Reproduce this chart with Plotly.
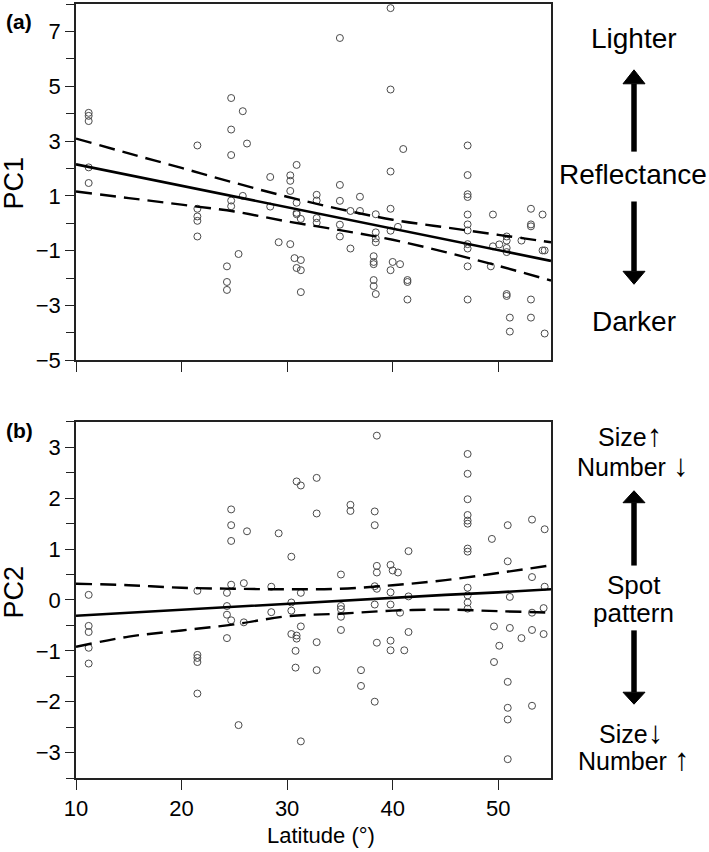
import plotly.graph_objects as go

# ---------------- data ----------------
lat_a = [11.2]*5 + [21.5]*5 + [24.3]*3 + [24.7]*5 + [25.4] + [25.8]*2 + [26.2] + [28.4]*2 + [29.2] \
    + [30.3]*4 + [30.9]*5 + [30.7] + [31.3]*4 + [32.8]*4 + [35.0]*5 + [36.0]*2 + [36.9]*2 \
    + [38.4]*4 + [38.2]*5 + [38.4] + [39.8]*6 + [40.0] + [40.5] + [40.7] + [41.0] + [41.4]*3 \
    + [47.1]*11 + [49.3] + [49.5]*2 + [50.1] + [50.8]*6 + [51.1]*2 + [52.2] + [53.1]*5 + [54.2]*2 + [54.4]*2
pc1 = [4.03, 3.92, 3.73, 2.04, 1.47,
       2.84, 0.53, 0.25, 0.09, -0.48,
       -1.57, -2.14, -2.43,
       4.57, 3.42, 2.49, 0.83, 0.62,
       -1.12,
       4.09, 1.00,
       2.91,
       1.69, 0.61,
       -0.69,
       1.75, 1.55, 1.18, -0.76,
       2.13, 0.75, 0.38, 0.33, -1.63,
       -1.27,
       0.16, -1.34, -1.71, -2.51,
       1.04, 0.83, 0.19, 0.02,
       6.76, 1.40, 0.82, -0.05, -0.48,
       -0.92, 0.45,
       0.97, 0.45,
       0.33, -0.33, -0.55, -0.69,
       -1.20, -1.41, -1.49, -2.07, -2.29,
       -2.58,
       7.85, 4.88, 1.89, 0.53, -0.27, -1.71,
       -1.41,
       -0.13,
       -1.49,
       2.71,
       -2.07, -2.14, -2.78,
       2.84, 1.76, 1.06, 0.96, 0.32, -0.04, -0.26, -0.76, -0.92, -1.57, -2.78,
       -1.57,
       0.32, -0.84,
       -0.77,
       -0.48, -0.63, -0.90, -1.05, -2.58, -2.65,
       -3.44, -3.95,
       -0.63,
       0.53, -0.04, -0.11, -2.78, -3.44,
       0.32, -0.99,
       -0.99, -4.02]

lat_b = [11.2]*5 + [21.5]*5 + [24.3]*4 + [24.7]*5 + [25.4] + [25.9]*2 + [26.2] + [28.5]*2 + [29.2] \
    + [30.4]*4 + [30.9]*3 + [30.8]*2 + [31.3]*4 + [32.8]*4 + [35.1]*5 + [36.0]*2 + [37.0]*2 \
    + [38.3]*5 + [38.5]*5 + [39.8]*5 + [40.0] + [40.5] + [40.7] + [41.1] + [41.5]*3 \
    + [47.1]*12 + [49.4] + [49.6]*2 + [50.1] + [50.9]*6 + [51.1]*2 + [52.2] + [53.2]*5 + [54.3]*2 + [54.4]*2
pc2 = [0.10, -0.51, -0.63, -0.94, -1.25,
       0.18, -1.08, -1.14, -1.22, -1.84,
       0.14, -0.12, -0.29, -0.75,
       1.78, 1.47, 1.16, 0.30, -0.40,
       -2.46,
       0.33, -0.44,
       1.35,
       0.26, -0.24,
       1.31,
       0.85, -0.05, -0.21, -0.67,
       -0.70, -0.76, 2.33,
       -1.00, -1.33,
       2.25, 0.14, -0.52, -2.78,
       2.40, 1.70, -0.83, -1.38,
       0.50, -0.12, -0.18, -0.33, -0.59,
       1.87, 1.75,
       -1.38, -1.69,
       1.74, 1.47, 0.27, -0.09, -2.00,
       3.23, 0.67, 0.54, 0.22, -0.84,
       0.69, 0.15, -0.09, -0.80, -0.99,
       0.58,
       0.54,
       -0.25,
       -0.99,
       0.96, 0.07, -0.63,
       2.87, 2.48, 1.98, 1.67, 1.56, 1.50, 1.01, 0.95, 0.24, 0.09, -0.05, -0.17,
       1.20,
       -0.52, -1.22,
       -0.90,
       1.47, 0.76, -1.61, -2.12, -2.35, -3.13,
       0.06, -0.55,
       -0.75,
       1.58, 0.45, -0.25, -0.59, -2.08,
       -0.16, -0.67,
       1.39, 0.26]

# regression line and 95% confidence band
lat_fit = [10, 15, 20, 25, 30, 35, 40, 45, 50, 55]
pc1_fit = [2.15, 1.76, 1.37, 0.98, 0.59, 0.20, -0.19, -0.58, -0.97, -1.37]
pc1_upper = [3.09, 2.55, 2.02, 1.48, 0.97, 0.52, 0.13, -0.15, -0.42, -0.69]
pc1_lower = [1.16, 0.92, 0.68, 0.43, 0.07, -0.25, -0.60, -1.05, -1.55, -2.09]
pc2_fit = [-0.31, -0.25, -0.19, -0.13, -0.08, -0.02, 0.04, 0.10, 0.15, 0.21]
pc2_upper = [0.32, 0.29, 0.24, 0.22, 0.21, 0.22, 0.29, 0.39, 0.53, 0.68]
pc2_lower = [-0.92, -0.72, -0.60, -0.48, -0.32, -0.27, -0.21, -0.19, -0.22, -0.25]

x_ticks = [10, 20, 30, 40, 50]

# ---------------- figure ----------------
FONT = "Liberation Sans, Arial, Helvetica, sans-serif"
W, H = 709, 852
L, R, T, B = 76, 158, 2, 74
PW, PH = W - L - R, H - T - B


def px2x(px):
    return (px - L) / PW


def py2y(py):
    return (H - B - py) / PH


fig = go.Figure()

marker = dict(symbol="circle-open", size=7, color="#4a4a4a", line=dict(width=1, color="#4a4a4a"))
solid = dict(color="black", width=2.6)
dashed = dict(color="black", width=2.4, dash="16px,8px")

for xa, ya, lat, vals, fit, up, lo in [
    ("x", "y", lat_a, pc1, pc1_fit, pc1_upper, pc1_lower),
    ("x2", "y2", lat_b, pc2, pc2_fit, pc2_upper, pc2_lower),
]:
    fig.add_trace(go.Scatter(x=lat, y=vals, mode="markers", marker=marker,
                             xaxis=xa, yaxis=ya, showlegend=False, cliponaxis=False))
    fig.add_trace(go.Scatter(x=lat_fit, y=up, mode="lines", line=dashed, line_shape="spline",
                             xaxis=xa, yaxis=ya, showlegend=False))
    fig.add_trace(go.Scatter(x=lat_fit, y=lo, mode="lines", line=dashed, line_shape="spline",
                             xaxis=xa, yaxis=ya, showlegend=False))
    fig.add_trace(go.Scatter(x=lat_fit, y=fit, mode="lines", line=solid,
                             xaxis=xa, yaxis=ya, showlegend=False))

axis_common = dict(showline=True, linecolor="#222", linewidth=1.5, mirror=True,
                   showgrid=False, zeroline=False, ticks="outside", tickcolor="#222",
                   tickwidth=1.3, tickfont=dict(family=FONT, size=22, color="black"))

top_lo = py2y(359.3)
bot_hi = py2y(421)

fig.update_layout(
    width=W, height=H,
    margin=dict(l=L, r=R, t=T, b=B),
    paper_bgcolor="white", plot_bgcolor="white",
    xaxis=dict(axis_common, range=[10, 55], anchor="y", domain=[0, 1],
               tickvals=x_ticks, showticklabels=False, ticklen=10),
    yaxis=dict(axis_common, range=[-5, 8], anchor="x", domain=[top_lo, 1],
               tick0=-5, dtick=2, ticklen=9,
               minor=dict(dtick=1, tick0=-5, ticks="outside", ticklen=8, tickcolor="#222", tickwidth=1.3)),
    xaxis2=dict(axis_common, range=[10, 55], anchor="y2", domain=[0, 1],
                tickvals=x_ticks, ticklen=10),
    yaxis2=dict(axis_common, range=[-3.5, 3.5], anchor="x2", domain=[0, bot_hi],
                tick0=-3, dtick=1, ticklen=9,
                minor=dict(dtick=0.5, tick0=-3, ticks="outside", ticklen=8, tickcolor="#222", tickwidth=1.3)),
)

annotations = []


def text(px, py, s, size=27, bold=False, angle=0):
    annotations.append(dict(x=px2x(px), y=py2y(py), xref="paper", yref="paper",
                            text=f"<b>{s}</b>" if bold else s, showarrow=False,
                            xanchor="center", yanchor="middle", textangle=angle,
                            font=dict(family=FONT, size=size, color="black")))


def arr(ch):
    return f"<span style='font-size:31px'>{ch}</span>"


text(19, 20, "(a)", size=21, bold=True)
text(19, 430, "(b)", size=21, bold=True)
text(14, 182, "PC1", size=27, angle=-90)
text(14, 592, "PC2", size=27, angle=-90)
text(321, 836, "Latitude (°)", size=22)

text(634, 37, "Lighter", size=28)
text(633, 173, "Reflectance", size=28)
text(634, 320, "Darker", size=28)

text(630, 435, "Size" + arr("↑"), size=25)
text(632, 465, "Number " + arr("↓"), size=25)
text(634, 585, "Spot", size=26)
text(633, 613, "pattern", size=26)
text(631, 732, "Size" + arr("↓"), size=25)
text(633, 759, "Number " + arr("↑"), size=25)

fig.update_layout(annotations=annotations)

shapes = []


def arrow(cx, tail, base, tip):
    shapes.append(dict(type="line", xref="paper", yref="paper",
                       x0=px2x(cx), x1=px2x(cx), y0=py2y(tail), y1=py2y(base),
                       line=dict(color="black", width=5.5)))
    hw = 11
    path = (f"M {px2x(cx - hw)},{py2y(base)} L {px2x(cx + hw)},{py2y(base)} "
            f"L {px2x(cx)},{py2y(tip)} Z")
    shapes.append(dict(type="path", xref="paper", yref="paper", path=path,
                       fillcolor="black", line=dict(color="black", width=1)))


arrow(634, 150, 82, 68)
arrow(634, 200, 270, 283)
arrow(634, 565, 502, 490)
arrow(634, 630, 692, 704)

fig.update_layout(shapes=shapes)

fig.write_html("out.html", config={"displayModeBar": False},
               post_script="document.body.style.margin='0';document.body.style.overflow='hidden';")
